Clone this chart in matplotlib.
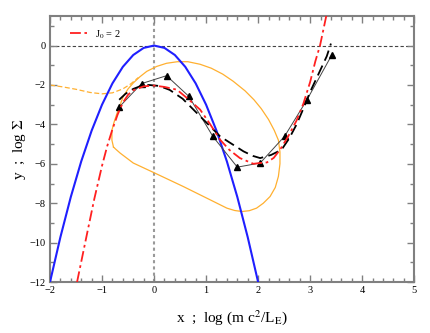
import matplotlib
matplotlib.use("Agg")
import matplotlib.pyplot as plt
from matplotlib.ticker import MultipleLocator

plt.rcParams['font.family'] = ['Liberation Serif', 'DejaVu Serif']
plt.rcParams['mathtext.fontset'] = 'stix'

# blue parabola
blue_x = [-2.0, -1.8, -1.6, -1.4, -1.2, -1.0, -0.8, -0.6, -0.4, -0.2, 0.0,
          0.2, 0.4, 0.6, 0.8, 1.0, 1.2, 1.4, 1.6, 1.8, 2.0]
blue_y = [-12.0, -9.72, -7.68, -5.88, -4.32, -3.0, -1.92, -1.08, -0.48, -0.12, 0.0,
          -0.12, -0.48, -1.08, -1.92, -3.0, -4.32, -5.88, -7.68, -9.72, -12.0]

# red dash-dot, J0 = 2
red_x = [-1.48, -1.30, -1.15, -1.00, -0.90, -0.80, -0.70, -0.60, -0.50, -0.40, -0.20,
         0.00, 0.20, 0.44, 0.65, 0.885, 1.08, 1.27, 1.45, 1.65, 1.91, 2.04, 2.17, 2.30,
         2.42, 2.58, 2.74, 2.87, 3.00, 3.10, 3.19, 3.31]
red_y = [-12.0, -9.7, -7.8, -6.1, -5.1, -4.25, -3.5, -2.9, -2.5, -2.27, -2.07,
         -2.03, -2.1, -2.24, -2.7, -3.25, -4.0, -4.78, -5.3, -5.71, -6.0, -5.96, -5.93, -5.7,
         -5.29, -4.6, -3.8, -2.95, -1.85, -0.8, 0.0, 1.5]

# black dashed
dash_x = [-0.67, -0.55, -0.40, -0.25, -0.10, 0.10, 0.30, 0.55, 0.885, 1.08, 1.27,
          1.50, 1.72, 1.90, 2.04, 2.25, 2.45, 2.60, 2.74, 2.87, 3.00, 3.16, 3.32, 3.40]
dash_y = [-2.75, -2.45, -2.2, -2.05, -2.0, -2.05, -2.25, -2.7, -3.59, -4.1, -4.61,
          -5.0, -5.37, -5.6, -5.71, -5.55, -5.29, -4.7, -4.0, -3.2, -2.35, -1.45, -0.54, 0.1]

# black triangles
tri_x = [-0.67, -0.24, 0.24, 0.67, 1.13, 1.60, 2.04, 2.51, 2.94, 3.42]
tri_y = [-3.12, -1.93, -1.53, -2.58, -4.61, -6.17, -5.96, -4.6, -2.75, -0.46]

# orange closed loop
loop_x = [-0.78, -0.81, -0.81, -0.77, -0.72, -0.66, -0.59, -0.50, -0.40, -0.27, -0.14,
          0.05, 0.24, 0.45, 0.65, 0.885, 1.10, 1.32, 1.52, 1.75, 1.92, 2.06, 2.20,
          2.31, 2.39, 2.42, 2.42, 2.39, 2.33, 2.23, 2.10, 1.97, 1.83, 1.69, 1.55,
          1.40, 1.08, 0.56, -0.01, -0.40, -0.65, -0.74, -0.78]
loop_y = [-5.15, -4.8, -4.3, -3.9, -3.5, -3.05, -2.58, -2.2, -1.9, -1.58, -1.31,
          -1.06, -0.9, -0.82, -0.82, -0.95, -1.15, -1.45, -1.81, -2.3, -2.75, -3.2, -3.75,
          -4.3, -4.8, -5.4, -6.0, -6.64, -7.2, -7.66, -8.0, -8.25, -8.38, -8.42, -8.37,
          -8.25, -7.83, -7.15, -6.44, -5.96, -5.46, -5.25, -5.15]

# orange dashed branch
odash_x = [-2.0, -1.75, -1.5, -1.23, -1.0, -0.8, -0.6, -0.45, -0.30]
odash_y = [-2.0, -2.1, -2.22, -2.38, -2.45, -2.4, -2.2, -1.95, -1.62]

fig = plt.figure(figsize=(4.31, 3.33), dpi=100)
ax = fig.add_axes([0.116, 0.153, 0.845, 0.799])

ax.axhline(0, color='#444444', lw=0.8, ls=(0, (3, 2)), zorder=1)
ax.axvline(0, color='#999999', lw=1.5, ls=(0, (1.5, 1.5)), zorder=1)

orange = '#ffb030'
ax.plot(loop_x, loop_y, color=orange, lw=0.9, zorder=2)
ax.plot(odash_x, odash_y, color=orange, lw=0.9, ls=(0, (4, 2)), zorder=2)
ax.plot(blue_x, blue_y, color='#1f1fff', lw=1.5, zorder=3)
ax.plot(tri_x, tri_y, color='#444444', lw=0.7, marker='^', ms=5,
        mfc='black', mec='black', zorder=4)
ax.plot(dash_x, dash_y, color='black', lw=1.3, ls=(0, (6, 3)), zorder=4)
ax.plot(red_x, red_y, color='#ff2020', lw=1.3, ls=(0, (6, 2, 1.5, 2)), zorder=5,
        label='J$_0$ = 2')

ax.set_xlim(-2, 5)
ax.set_ylim(-12, 1.5)
ax.xaxis.set_major_locator(MultipleLocator(1))
ax.xaxis.set_minor_locator(MultipleLocator(0.2))
ax.yaxis.set_major_locator(MultipleLocator(2))
ax.yaxis.set_minor_locator(MultipleLocator(1))
ax.tick_params(which='both', direction='in', top=True, right=True,
               color='#808080', labelsize=7.5, pad=3)
ax.tick_params(which='major', length=5, width=1)
ax.tick_params(which='minor', length=3, width=1)
for s in ax.spines.values():
    s.set_color('#808080')
    s.set_linewidth(1.5)

ax.set_xlabel('x  ;  log (m c$^2$/L$_\\mathrm{E}$)', fontsize=11, labelpad=9)
ax.set_ylabel('y  ;  log $\\Sigma$', fontsize=11, labelpad=1)

ax.legend(loc='upper left', bbox_to_anchor=(0.03, 0.99), frameon=False,
          fontsize=7.5, handlelength=1.6, handletextpad=0.8)

fig.savefig('out.png', dpi=100)
